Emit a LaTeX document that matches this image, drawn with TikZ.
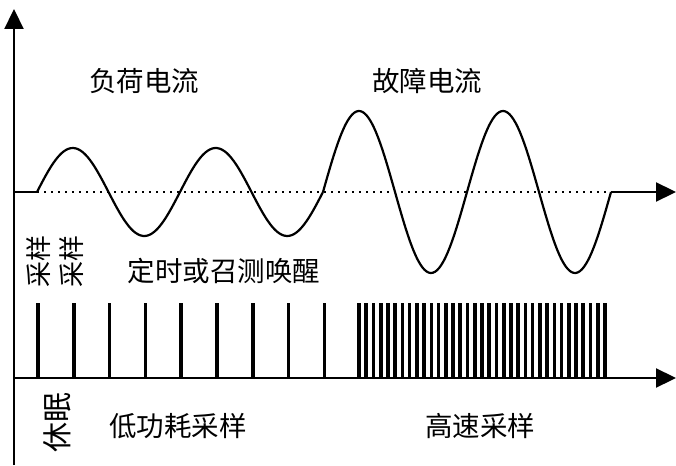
\documentclass[tikz,border=0pt]{standalone}
\usepackage{fontspec}
\newfontfamily\cjk{Noto Sans CJK SC}
\usetikzlibrary{arrows.meta}
\begin{document}
\begin{tikzpicture}[x=1pt,y=-1pt,
  axis/.style={line width=2.2pt,-{Triangle[length=20pt,width=19pt]}},
  wave/.style={line width=2.2pt},
  baseline dots/.style={line width=2.2pt,dash pattern=on 2pt off 5pt},
  sbar/.style={line width=3.6pt},
  lbl/.style={font=\cjk\fontsize{27.5}{30}\selectfont, inner sep=0pt},
  vlbl/.style={font=\cjk\fontsize{26}{28}\selectfont, inner sep=0pt, rotate=90},
  blbl/.style={font=\cjk\fontsize{30}{32}\selectfont, inner sep=0pt, rotate=90}]
\useasboundingbox (0,0) rectangle (676,465);
% coordinates
\coordinate (O) at (14,465);
\coordinate (Ytop) at (14,9);
\coordinate (W0) at (14,192);
\coordinate (W1) at (37,192);
\coordinate (W2) at (323,192);
\coordinate (W3) at (611,192);
\coordinate (Wend) at (676,192);
\coordinate (L0) at (14,378);
\coordinate (Lend) at (676,378);
% axes
\draw[axis] (O) -- (Ytop);
\draw[axis] (L0) -- (Lend);
\draw[line width=2.2pt] (W0) -- (W1);
\draw[axis] (W3) -- (Wend);
\draw[baseline dots] (W1) -- (W3);
% load current
\draw[wave] plot[domain=37:323, samples=120, smooth] (\x, {192-44*sin(2.517483*(\x-37))});
% fault current
\draw[wave] plot[domain=323:611, samples=140, smooth] (\x, {192-81*sin(2.5*(\x-323))});
% low-power sampling bars
\foreach \i in {0,...,8} \draw[sbar] (38+35.8*\i,377) -- (38+35.8*\i,303);
% high-speed sampling bars
\foreach \i in {0,...,34} \draw[sbar] (359+7.235*\i,377) -- (359+7.235*\i,303);
% labels
\node[lbl] (load) at (144,81) {负荷电流};
\node[lbl] (fault) at (427,81) {故障电流};
\node[lbl] (wake) at (224,271) {定时或召测唤醒};
\node[vlbl] (s1) at (39,261) {采样};
\node[vlbl] (s2) at (72,261) {采样};
\node[blbl] (sleep) at (57,422) {休眠};
\node[lbl] (lowp) at (178,426) {低功耗采样};
\node[lbl] (high) at (480,426) {高速采样};
\end{tikzpicture}
\end{document}
